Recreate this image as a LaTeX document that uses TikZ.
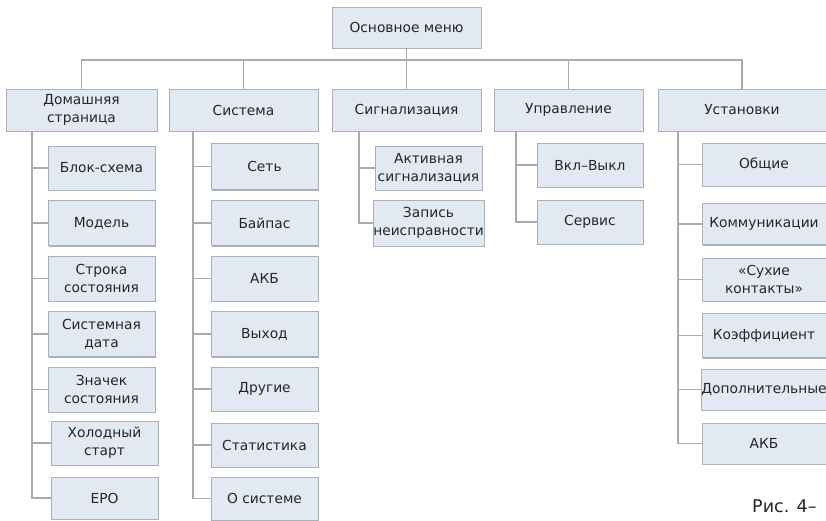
\documentclass[tikz,border=0pt]{standalone}
\usepackage{fontspec}
\setmainfont{DejaVu Sans}
\usetikzlibrary{shadows}
\definecolor{boxfill}{HTML}{E2E9F2}
\definecolor{boxline}{HTML}{A9B0B8}
\definecolor{linec}{HTML}{ABABAB}
\definecolor{textc}{HTML}{262626}
\tikzset{
  box/.style={draw=boxline, line width=0.8pt, fill=boxfill, text=textc, align=center,
    inner xsep=0.3pt, inner ysep=1pt, font=\fontsize{13.8}{18}\selectfont,
    drop shadow={shadow xshift=1pt, shadow yshift=-1.2pt, fill=black!45, opacity=0.7}},
  link/.style={draw=linec, line width=1.4pt},
  caption/.style={text=textc, font=\fontsize{17.5}{20}\selectfont, inner sep=0pt}
}
\begin{document}
\begin{tikzpicture}[x=1pt, y=-1pt]
\useasboundingbox (0,0) rectangle (826,520);
\clip (0,0) rectangle (826,520);

% top
\node[box, minimum width=149, minimum height=41] (main) at (406.5,27.5) {Основное меню};

% level 1
\node[box, minimum width=151, minimum height=42] (home) at (81.5,110) {Домашняя\\страница};
\node[box, minimum width=149, minimum height=42] (sys) at (243.5,110) {Система};
\node[box, minimum width=149, minimum height=42] (alarm) at (406.5,110) {Сигнализация};
\node[box, minimum width=149, minimum height=42] (ctrl) at (568.5,110) {Управление};
\node[box, minimum width=168, minimum height=42] (set) at (742,110) {Установки};

% bus
\coordinate (bus) at (0,60);
\draw[link] (main.south) -- (alarm.north);
\draw[link] (home.north) -- (home.north |- bus) -- (set.north |- bus) -- (set.north);
\draw[link] (sys.north) -- (sys.north |- bus);
\draw[link] (ctrl.north) -- (ctrl.north |- bus);

% home column
\node[box, minimum width=107, minimum height=44] (blk) at (101.5,168) {Блок-схема};
\node[box, minimum width=107, minimum height=45] (mod) at (101.5,223) {Модель};
\node[box, minimum width=107, minimum height=45] (str) at (101.5,278.5) {Строка\\состояния};
\node[box, minimum width=107, minimum height=45] (date) at (101.5,334) {Системная\\дата};
\node[box, minimum width=107, minimum height=45] (icon) at (101.5,389.5) {Значек\\состояния};
\node[box, minimum width=107, minimum height=44] (cold) at (104.5,443) {Холодный\\старт};
\node[box, minimum width=107, minimum height=42] (epo) at (104.5,498) {EPO};
\coordinate (hv) at (32,0);
\draw[link] (hv |- home.south) -- (hv |- epo.west) -- (epo.west);
\foreach \n in {blk,mod,str,date,icon,cold} \draw[link] (hv |- \n.west) -- (\n.west);

% system column
\node[box, minimum width=107, minimum height=46] (net) at (264.5,166.5) {Сеть};
\node[box, minimum width=107, minimum height=45] (byp) at (264.5,223) {Байпас};
\node[box, minimum width=107, minimum height=45] (bat) at (264.5,278.5) {АКБ};
\node[box, minimum width=107, minimum height=45] (out) at (264.5,334) {Выход};
\node[box, minimum width=107, minimum height=44] (oth) at (264.5,389) {Другие};
\node[box, minimum width=107, minimum height=44] (stat) at (264.5,445) {Статистика};
\node[box, minimum width=107, minimum height=43] (about) at (264.5,498.5) {О системе};
\coordinate (sv) at (193,0);
\draw[link] (sv |- sys.south) -- (sv |- about.west) -- (about.west);
\foreach \n in {net,byp,bat,out,oth,stat} \draw[link] (sv |- \n.west) -- (\n.west);

% alarm column
\node[box, minimum width=107, minimum height=44] (act) at (428.5,168) {Активная\\сигнализация};
\node[box, minimum width=107, minimum height=46] (rec) at (428.5,223) {Запись\\неисправности};
\coordinate (av) at (359,0);
\draw[link] (av |- alarm.south) -- (av |- rec.west) -- (rec.west);
\draw[link] (av |- act.west) -- (act.west);

% control column
\node[box, minimum width=106, minimum height=44] (onoff) at (590,165) {Вкл–Выкл};
\node[box, minimum width=106, minimum height=44] (serv) at (590,222) {Сервис};
\coordinate (cv) at (516,0);
\draw[link] (cv |- ctrl.south) -- (cv |- serv.west) -- (serv.west);
\draw[link] (cv |- onoff.west) -- (onoff.west);

% settings column
\node[box, minimum width=124, minimum height=43] (gen) at (764,164.5) {Общие};
\node[box, minimum width=124, minimum height=41] (com) at (764,224) {Коммуникации};
\node[box, minimum width=124, minimum height=43] (dry) at (764,279.5) {«Сухие\\контакты»};
\node[box, minimum width=124, minimum height=44] (coef) at (764,335.5) {Коэффициент};
\node[box, minimum width=124, minimum height=41] (add) at (764,389.5) {Дополнительные};
\node[box, minimum width=124, minimum height=41] (sbat) at (764,443.5) {АКБ};
\coordinate (tv) at (678,0);
\draw[link] (tv |- set.south) -- (tv |- sbat.west) -- (sbat.west);
\foreach \n in {gen,com,dry,coef,add} \draw[link] (tv |- \n.west) -- (\n.west);

% caption
\node[caption, anchor=base west] (cap) at (752,512) {Рис. 4–};
\end{tikzpicture}
\end{document}
